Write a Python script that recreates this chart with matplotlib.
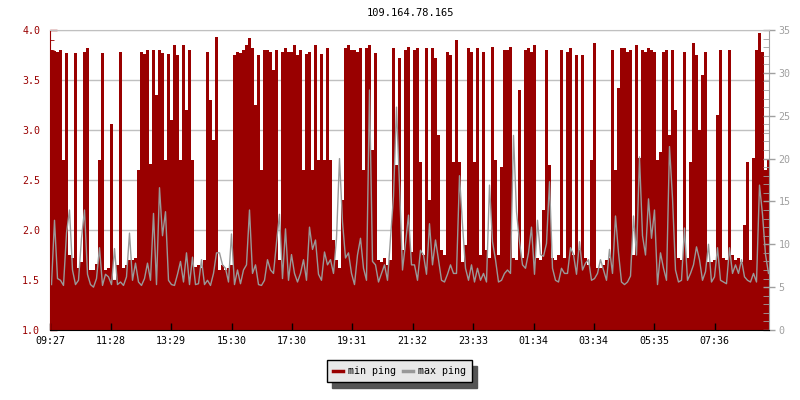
import matplotlib
matplotlib.use('Agg')
import matplotlib.pyplot as plt
from matplotlib.lines import Line2D
from matplotlib.ticker import MultipleLocator
import numpy as np

plt.rcParams['font.family'] = ['DejaVu Sans Mono']

titre = '109.164.78.165'
debut = '09:27'
pas_minutes = 6
etiquettes_x = ['09:27', '11:28', '13:29', '15:30', '17:30', '19:31',
                '21:32', '23:33', '01:34', '03:34', '05:35', '07:36']
series = ['min ping', 'max ping']

# min ping (axe de gauche)
min_ping = [
    3.80, 3.79, 3.78, 3.80, 2.70, 3.77, 1.75, 1.72, 3.77, 1.62,
    1.68, 3.78, 3.82, 1.60, 1.60, 1.66, 2.70, 3.77, 1.60, 1.62,
    3.06, 1.50, 1.65, 3.78, 1.62, 1.65, 1.70, 1.70, 1.72, 2.60,
    3.78, 3.76, 3.80, 2.66, 3.80, 3.35, 3.80, 3.77, 2.70, 3.76,
    3.10, 3.85, 3.75, 2.70, 3.85, 3.20, 3.80, 2.70, 1.63, 1.65,
    1.62, 1.70, 3.78, 3.30, 2.90, 3.93, 1.60, 1.65, 1.60, 1.62,
    1.65, 3.75, 3.78, 3.77, 3.80, 3.85, 3.92, 3.82, 3.25, 3.75,
    2.60, 3.80, 3.80, 3.78, 3.60, 3.80, 1.70, 3.78, 3.82, 3.78,
    3.78, 3.85, 3.75, 3.80, 2.60, 3.76, 3.78, 2.60, 3.85, 2.70,
    3.76, 2.70, 3.82, 2.70, 1.90, 1.70, 1.62, 2.30, 3.82, 3.85,
    3.80, 3.80, 3.78, 3.82, 2.60, 3.82, 3.85, 2.80, 3.77, 1.70,
    1.68, 1.72, 1.65, 1.70, 3.82, 2.65, 3.72, 1.80, 3.80, 3.83,
    1.78, 3.80, 3.82, 2.68, 1.75, 3.82, 2.30, 3.82, 3.72, 2.95,
    1.80, 1.75, 3.78, 3.75, 2.68, 3.90, 2.68, 1.68, 1.85, 3.82,
    3.78, 2.68, 3.82, 1.75, 3.78, 1.80, 1.72, 3.83, 2.70, 1.75,
    2.63, 3.80, 3.80, 3.83, 1.72, 1.70, 3.40, 1.72, 3.80, 3.82,
    3.78, 3.85, 1.72, 1.70, 2.20, 3.80, 2.65, 1.72, 1.70, 1.75,
    3.80, 1.72, 3.78, 3.82, 1.75, 3.75, 1.80, 3.75, 1.72, 1.65,
    2.70, 3.87, 1.62, 1.62, 1.65, 1.70, 1.72, 3.80, 2.60, 3.42,
    3.82, 3.82, 3.78, 3.80, 1.75, 3.85, 2.72, 3.80, 3.78, 3.82,
    3.80, 3.78, 2.70, 2.78, 3.78, 3.80, 2.95, 3.80, 3.20, 1.72,
    1.70, 3.78, 1.72, 2.68, 3.87, 3.75, 3.00, 3.55, 3.78, 1.68,
    1.68, 1.70, 3.15, 3.80, 1.72, 1.70, 3.80, 1.75, 1.70, 1.72,
    1.68, 2.05, 2.68, 1.70, 2.72, 3.80, 3.97, 3.78, 2.60, 2.70,
]

# max ping (axe de droite)
max_ping = [
    5.3, 12.8, 6.0, 5.8, 5.2, 11.3, 14.0, 7.0, 5.3, 5.8,
    10.7, 14.0, 6.5, 5.3, 5.0, 6.0, 9.6, 5.2, 6.5, 6.2,
    5.3, 9.5, 5.3, 5.6, 5.2, 6.2, 11.3, 5.8, 7.8, 5.6,
    5.2, 6.0, 7.8, 5.8, 13.6, 5.3, 16.6, 11.0, 13.8, 5.8,
    5.3, 5.2, 6.5, 8.0, 5.6, 9.0, 5.3, 8.5, 5.3, 5.4,
    8.2, 5.3, 5.8, 5.2, 6.6, 9.0, 9.0, 7.6, 7.2, 5.6,
    11.2, 5.3, 7.0, 5.4, 7.0, 7.6, 14.0, 6.6, 7.6, 5.3,
    5.2, 5.8, 8.2, 7.0, 6.6, 10.2, 13.5, 6.0, 11.8, 5.8,
    8.8, 6.6, 5.6, 6.6, 8.2, 5.8, 12.0, 9.4, 10.5, 6.5,
    5.8, 9.1, 7.6, 8.2, 6.6, 10.7, 20.0, 12.6, 8.4, 9.0,
    6.6, 5.3, 8.75, 10.7, 7.2, 5.8, 28.0, 8.0, 7.6, 5.6,
    6.6, 7.6, 5.8, 10.7, 15.6, 26.0, 16.9, 7.0, 10.1, 13.4,
    7.6, 7.6, 5.8, 9.3, 8.75, 6.5, 12.4, 7.6, 10.5, 8.2,
    5.8, 5.6, 6.5, 7.6, 6.6, 6.6, 18.0, 12.3, 7.2, 5.8,
    7.6, 5.6, 7.2, 5.8, 6.6, 5.6, 16.9, 10.3, 8.2, 5.6,
    5.8, 6.6, 7.0, 6.6, 22.7, 13.8, 10.3, 7.6, 7.2, 9.0,
    12.0, 6.5, 12.8, 8.8, 8.6, 10.1, 17.3, 7.2, 5.8, 5.6,
    7.2, 6.6, 6.6, 9.6, 8.8, 6.5, 10.3, 7.0, 7.8, 8.2,
    5.8, 6.0, 6.6, 8.2, 7.0, 5.8, 9.4, 6.6, 13.3, 9.0,
    5.6, 5.3, 5.6, 6.3, 13.3, 8.75, 20.2, 11.0, 8.75, 15.3,
    10.7, 14.0, 5.3, 9.0, 7.2, 5.8, 21.4, 15.4, 7.0, 5.6,
    5.8, 11.9, 5.8, 6.6, 7.6, 9.7, 8.2, 5.8, 6.8, 10.0,
    5.6, 6.2, 9.6, 5.8, 5.6, 5.4, 9.6, 6.6, 7.6, 6.6,
    8.2, 6.2, 5.8, 5.6, 6.6, 5.6, 16.9, 13.5, 8.8, 6.6,
]

rouge = '#990000'
gris = '#999999'

# temps en minutes depuis le debut
t = np.arange(len(min_ping)) * pas_minutes
x = np.append(t, t[-1] + pas_minutes)
y_min = np.append(min_ping, min_ping[-1])

def minutes(hhmm):
    h, m = hhmm.split(':')
    h0, m0 = debut.split(':')
    return (int(h) * 60 + int(m) - int(h0) * 60 - int(m0)) % 1440

pos_x = [minutes(e) for e in etiquettes_x]

fig = plt.figure(figsize=(8, 4), dpi=100)
ax = fig.add_axes([50 / 800, 70 / 400, 719 / 800, 300 / 400])

# aire min ping en escalier
ax.fill_between(x, 1.0, y_min, step='post', color=rouge, lw=0, zorder=2)
ax.set_ylim(1.0, 4.0)
ax.set_yticks(np.arange(1.0, 4.01, 0.5))
ax.set_yticklabels(['%.1f' % v for v in np.arange(1.0, 4.01, 0.5)])
ax.yaxis.set_minor_locator(MultipleLocator(0.1))
ax.tick_params(axis='y', which='major', direction='in', length=5, width=1,
               colors=rouge, labelsize=7.2, pad=7)
ax.tick_params(axis='y', which='minor', direction='in', length=3, color=rouge)
ax.tick_params(axis='x', bottom=False, labelbottom=False)
ax.grid(axis='y', color='#c0c0c0', lw=1)
for s in ax.spines.values():
    s.set_visible(False)

# axe de droite, max ping en ligne
ax2 = ax.twinx()
ax2.plot(t + pas_minutes / 2, max_ping, color=gris, lw=1)
ax2.set_ylim(0, 35)
ax2.set_yticks(np.arange(0, 36, 5))
ax2.yaxis.set_minor_locator(MultipleLocator(1))
ax2.tick_params(axis='y', which='major', direction='inout', length=8, width=1,
                colors='#a0a0a0', labelsize=7.2, pad=3)
ax2.tick_params(axis='y', which='minor', direction='in', length=4, color='#a0a0a0')

ax2.xaxis.set_visible(True)
ax2.set_xticks(pos_x)
ax2.set_xticklabels(etiquettes_x)
ax2.tick_params(axis='x', direction='in', length=5, width=1, colors='black',
                labelsize=7.2, pad=4)
ax.set_xlim(0, 1438)
ax2.set_xlim(0, 1438)

ax2.spines['left'].set_color(rouge)
ax2.spines['right'].set_color('#a0a0a0')
ax2.spines['bottom'].set_color('black')
ax2.spines['top'].set_color('#c0c0c0')

fig.text(410 / 800, 1 - 13 / 400, titre, ha='center', va='center', fontsize=7.5)

poignees = [Line2D([], [], color=rouge, lw=2.5), Line2D([], [], color=gris, lw=2.5)]
leg = fig.legend(poignees, series, loc='center', bbox_to_anchor=(399 / 800, 1 - 371 / 400),
                 ncol=2, fontsize=7.2, frameon=True, fancybox=False,
                 shadow={'ox': 4, 'oy': -4, 'color': '#555555', 'alpha': 1.0},
                 handlelength=1.0, handletextpad=0.5, columnspacing=0.7, borderpad=0.6)
leg.get_frame().set_edgecolor('black')
leg.get_frame().set_facecolor('#e8e8e8')
leg.get_frame().set_alpha(1.0)
leg.get_frame().set_linewidth(1.0)

fig.savefig('out.png', dpi=100)
